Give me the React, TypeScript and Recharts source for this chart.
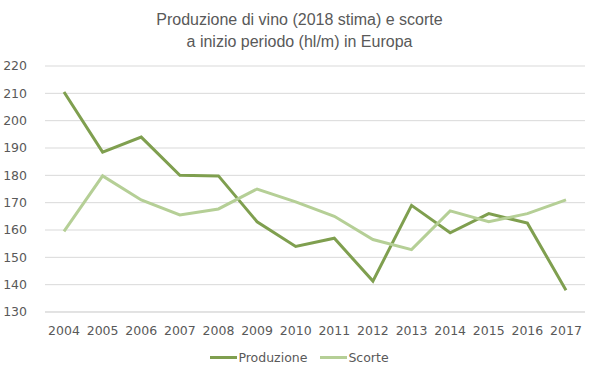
import React from 'react';
import { LineChart, Line, XAxis, YAxis, CartesianGrid } from 'recharts';

const YEARS = ['2004', '2005', '2006', '2007', '2008', '2009', '2010', '2011', '2012', '2013', '2014', '2015', '2016', '2017'];
const PRODUZIONE = [210.5, 188.5, 194, 180, 179.8, 163, 154, 157, 141.3, 169, 159, 166, 162.5, 138];
const SCORTE = [159.5, 179.8, 171, 165.5, 167.7, 175, 170.3, 165, 156.5, 152.8, 167, 163, 166, 171];
const Y_TICKS = [130, 140, 150, 160, 170, 180, 190, 200, 210, 220];

const data = YEARS.map((year, i) => ({ year, produzione: PRODUZIONE[i], scorte: SCORTE[i] }));

const COLOR_PROD = '#7f9f4f';
const COLOR_SCORTE = '#b5cf96';
const TEXT = '#595959';

export default function App() {
  return (
    <div style={{ position: 'absolute', left: 0, top: 0, width: 599, height: 378, background: '#fff' }}>
      <div
        style={{
          position: 'absolute',
          top: 9,
          left: 0,
          width: 599,
          textAlign: 'center',
          fontFamily: '"Liberation Sans Narrow", "Liberation Sans", sans-serif',
          fontSize: 16,
          lineHeight: '22px',
          color: TEXT,
        }}
      >
        Produzione di vino (2018 stima) e scorte
        <br />
        a inizio periodo (hl/m) in Europa
      </div>
      <LineChart width={599} height={378} data={data} margin={{ top: 66, right: 14, bottom: 36, left: 0 }}>
        <CartesianGrid vertical={false} stroke="#d9d9d9" strokeWidth={1} />
        <XAxis
          dataKey="year"
          axisLine={{ stroke: '#d9d9d9' }}
          tickLine={false}
          padding={{ left: 19, right: 19 }}
          tick={{ fill: TEXT, fontSize: 12.5, fontFamily: '"DejaVu Sans", sans-serif' }}
          tickMargin={8}
          interval={0}
          height={30}
        />
        <YAxis
          domain={[130, 220]}
          ticks={Y_TICKS}
          axisLine={false}
          tickLine={false}
          width={45}
          tickMargin={12}
          tick={{ fill: TEXT, fontSize: 12.5, fontFamily: '"DejaVu Sans", sans-serif' }}
          interval={0}
        />
        <Line dataKey="produzione" stroke={COLOR_PROD} strokeWidth={3} dot={false} isAnimationActive={false} />
        <Line dataKey="scorte" stroke={COLOR_SCORTE} strokeWidth={3} dot={false} isAnimationActive={false} />
      </LineChart>
      <div
        style={{
          position: 'absolute',
          top: 350,
          left: 0,
          width: 599,
          display: 'flex',
          justifyContent: 'center',
          alignItems: 'center',
          fontFamily: '"DejaVu Sans", sans-serif',
          fontSize: 12.5,
          color: TEXT,
        }}
      >
        <span style={{ display: 'inline-block', width: 27, height: 3, background: COLOR_PROD, marginRight: 1 }} />
        <span style={{ marginRight: 13 }}>Produzione</span>
        <span style={{ display: 'inline-block', width: 27, height: 3, background: COLOR_SCORTE, marginRight: 1 }} />
        <span>Scorte</span>
      </div>
    </div>
  );
}
